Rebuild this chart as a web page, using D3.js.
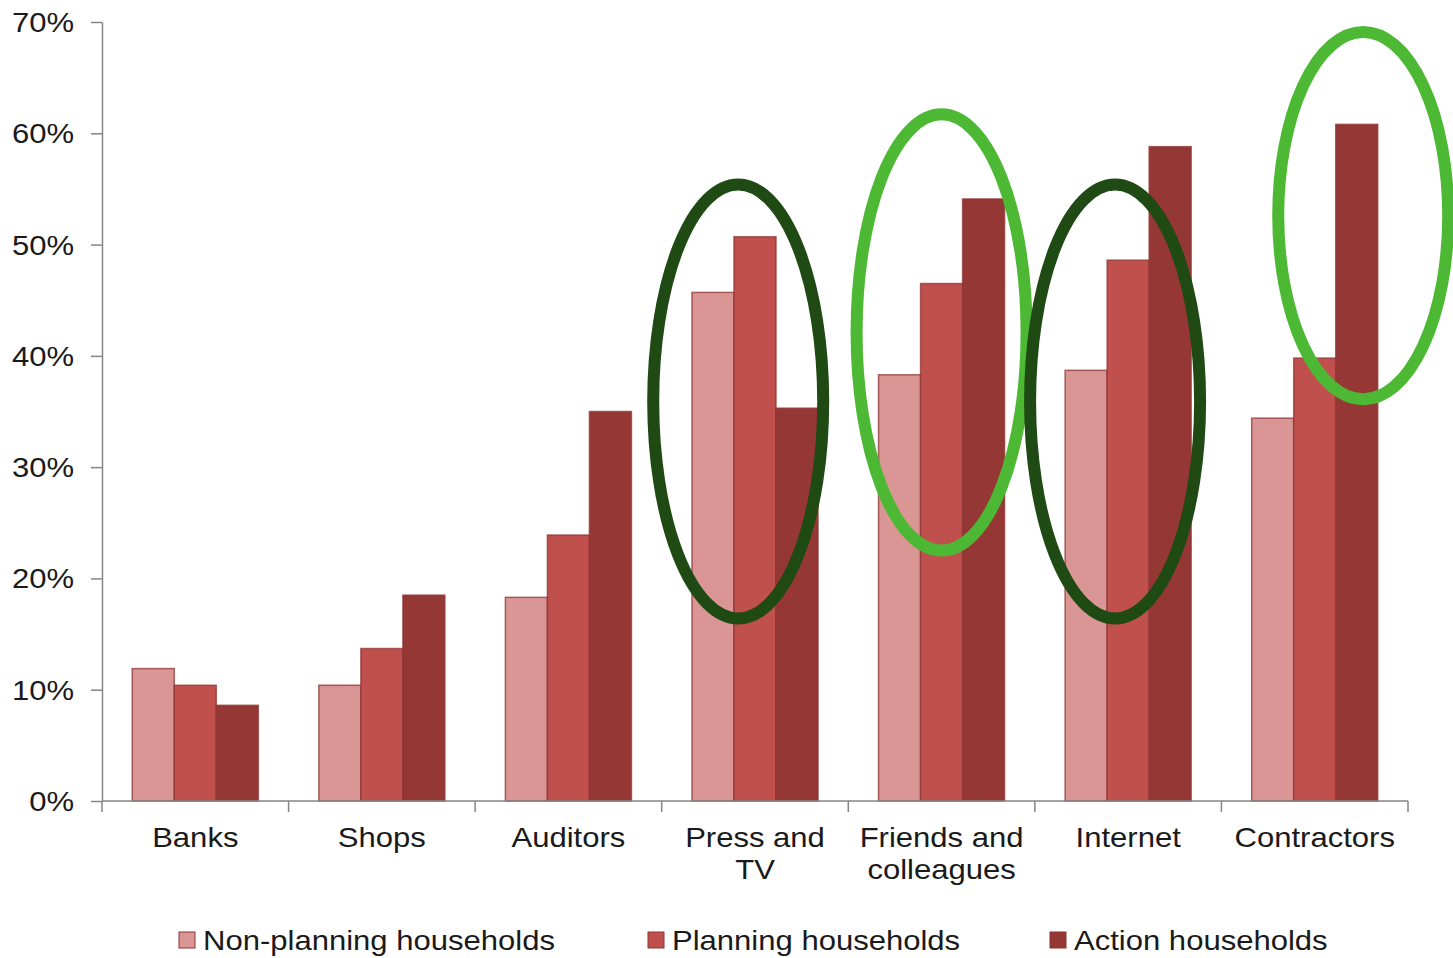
<!DOCTYPE html>
<html>
<head>
<meta charset="utf-8">
<script src="https://cdn.jsdelivr.net/npm/d3@7"></script>
<style>
  body { margin: 0; background: #fff; }
  text { font-family: "Liberation Sans", Arial, sans-serif; fill: #1a1a1a; }
</style>
</head>
<body>
<div id="chart"></div>
<script>
// data
const categories = ["Banks", "Shops", "Auditors", "Press and TV", "Friends and colleagues", "Internet", "Contractors"];
const categoryLines = [["Banks"], ["Shops"], ["Auditors"], ["Press and", "TV"], ["Friends and", "colleagues"], ["Internet"], ["Contractors"]];
const seriesNames = ["Non-planning households", "Planning households", "Action households"];
const nonPlanning = [11.9, 10.4, 18.3, 45.7, 38.3, 38.7, 34.4];
const planning = [10.4, 13.7, 23.9, 50.7, 46.5, 48.6, 39.8];
const action = [8.6, 18.5, 35.0, 35.3, 54.1, 58.8, 60.8];
const yTicks = [0, 10, 20, 30, 40, 50, 60, 70];

// highlight ellipses (annotation)
const ringCats = ["Press and TV", "Friends and colleagues", "Internet", "Contractors"];
const ringPos = [0.41, 0.5, 0.43, 0.76];     // fraction across the category band
const ringMid = [35.9, 42.1, 35.9, 52.6];    // centre value (%)
const ringHalf = [19.5, 19.6, 19.5, 16.5];   // half height (%)
const ringKind = ["dark", "light", "dark", "light"];

const W = 1453, H = 958;
const margin = { top: 22, right: 45, bottom: 157, left: 102 };
const width = W - margin.left - margin.right;
const height = H - margin.top - margin.bottom;
const colors = ["#d99694", "#c0504d", "#953735"];
const stretch = 1.15;

const svg = d3.select("#chart").append("svg")
    .attr("width", W).attr("height", H);
const g = svg.append("g").attr("transform", `translate(${margin.left},${margin.top})`);

const x = d3.scaleBand().domain(categories).range([0, width]).padding(0);
const xs = d3.scaleBand().domain(seriesNames).range([0, x.bandwidth()]).paddingOuter(0.72).paddingInner(0);
const y = d3.scaleLinear().domain([0, 70]).range([height, 0]);

const table = categories.map((c, i) => ({ cat: c, vals: [nonPlanning[i], planning[i], action[i]] }));

// bars
const groups = g.selectAll(".grp").data(table).join("g")
    .attr("class", "grp")
    .attr("transform", d => `translate(${x(d.cat)},0)`);
groups.selectAll("rect")
    .data(d => d.vals.map((v, k) => ({ v, k })))
    .join("rect")
    .attr("x", d => xs(seriesNames[d.k]))
    .attr("y", d => y(d.v))
    .attr("width", xs.bandwidth())
    .attr("height", d => y(0) - y(d.v))
    .attr("fill", d => colors[d.k])
    .attr("stroke", "#8e3533")
    .attr("stroke-opacity", 0.75)
    .attr("stroke-width", 1.5);

// y axis
const yAxis = g.append("g")
    .call(d3.axisLeft(y).tickValues(yTicks).tickFormat(d => d + "%").tickSize(11).tickSizeOuter(0).tickPadding(0));
yAxis.selectAll("text")
    .attr("x", -28 / stretch)
    .attr("dy", "0.35em")
    .attr("transform", `scale(${stretch},1)`)
    .style("font-size", "27px");

// x axis with boundary ticks
const xAxis = g.append("g").attr("transform", `translate(0,${height})`);
xAxis.append("line").attr("x1", 0).attr("x2", width).attr("stroke", "#868686").attr("stroke-width", 1.5);
const bounds = categories.map(c => x(c)).concat([width]);
xAxis.selectAll(".bt").data(bounds).join("line")
    .attr("class", "bt")
    .attr("x1", d => d).attr("x2", d => d)
    .attr("y1", 0).attr("y2", 11)
    .attr("stroke", "#868686").attr("stroke-width", 1.5);
const labs = xAxis.selectAll(".lab").data(categoryLines).join("text")
    .attr("class", "lab")
    .attr("transform", (d, i) => `translate(${x(categories[i]) + x.bandwidth() / 2},0) scale(${stretch},1)`)
    .attr("text-anchor", "middle")
    .style("font-size", "27px");
labs.selectAll("tspan").data(d => d).join("tspan")
    .attr("x", 0)
    .attr("y", (d, i) => 46 + i * 32)
    .text(d => d);

yAxis.selectAll("path, line").attr("stroke", "#868686").attr("stroke-width", 1.5);

// ellipses
g.selectAll(".ring").data(ringCats).join("ellipse")
    .attr("class", "ring")
    .attr("cx", (c, i) => x(c) + ringPos[i] * x.bandwidth())
    .attr("cy", (c, i) => y(ringMid[i]))
    .attr("rx", 85)
    .attr("ry", (c, i) => y(0) - y(ringHalf[i]))
    .attr("fill", "none")
    .attr("stroke", (c, i) => ringKind[i] === "dark" ? "#1f4a14" : "#4db833")
    .attr("stroke-width", 12);

// legend
const legendX = [179, 648, 1050];
const legend = svg.selectAll(".leg").data(seriesNames).join("g")
    .attr("class", "leg")
    .attr("transform", (d, i) => `translate(${legendX[i]},932)`);
legend.append("rect")
    .attr("width", 16).attr("height", 16)
    .attr("fill", (d, i) => colors[i])
    .attr("stroke", "#8e3533").attr("stroke-width", 1);
legend.append("text")
    .attr("transform", `translate(24,18) scale(${stretch},1)`)
    .style("font-size", "27px")
    .text(d => d);
</script>
</body>
</html>
